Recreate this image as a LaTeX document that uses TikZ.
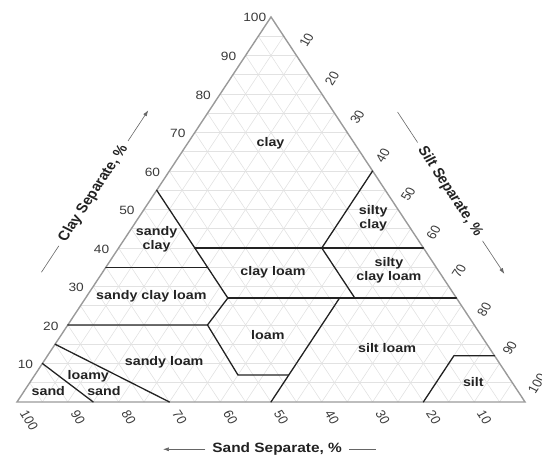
\documentclass[tikz,border=0pt]{standalone}
\usepackage{fontspec}
\setmainfont{Liberation Sans}
\usetikzlibrary{calc,arrows.meta}
\definecolor{gridc}{HTML}{E2E2E2}
\definecolor{edgec}{HTML}{9A9A9A}
\definecolor{bndc}{HTML}{222222}
\definecolor{tickc}{HTML}{3A3A3A}
\definecolor{txtc}{HTML}{222222}
\definecolor{axc}{HTML}{666666}
\begin{document}
\begin{tikzpicture}[xscale=1.1426, x=1pt, y=1pt,
  every node/.style={transform shape, inner sep=0pt},
  gridline/.style={gridc, line width=0.6pt},
  edgeline/.style={edgec, line width=1.4pt, line join=miter},
  bound/.style={bndc, line width=1.3pt, line join=round, line cap=round},
  region/.style={font=\fontsize{12.5}{14}\selectfont\bfseries, text=txtc, align=center},
  tick/.style={font=\fontsize{12}{14}\selectfont, text=tickc},
  axtitle/.style={font=\fontsize{13.5}{16}\selectfont\bfseries, text=txtc, inner xsep=6pt, inner ysep=0pt},
  axline/.style={draw=axc, line width=0.6pt},
  axarrow/.style={axline, -{Latex[length=6pt,width=4pt]}}
]
\useasboundingbox (-14.88,-55) rectangle (459.5,402);
\begin{scope}[x={(4.446pt,0pt)}, y={(2.223pt,3.8503pt)}]
  % grid every 5 %
  \foreach \i in {5,10,...,95} {
    \draw[gridline] (0,\i) -- ({100-\i},\i);
    \draw[gridline] (\i,0) -- (\i,{100-\i});
    \draw[gridline] ({100-\i},0) -- (0,{100-\i});
  }
  \coordinate (A) at (0,0);
  \coordinate (B) at (100,0);
  \coordinate (C) at (0,100);
  \draw[edgeline] (A) -- (B) -- (C) -- cycle;
  % class boundaries (silt, clay)
  \draw[bound] (15,0) -- (0,10);
  \draw[bound] (30,0) -- (0,15);
  \draw[bound] (0,20) -- (27.5,20) -- (40,7) -- (50,7);
  \draw[bound] (50,0) -- (50,27);
  \draw[bound] (0,35) -- (20,35);
  \draw[bound] (0,55) -- (28,27);
  \draw[bound] (27.5,20) -- (28,27);
  \draw[bound] (28,27) -- (73,27);
  \draw[bound] (15,40) -- (60,40);
  \draw[bound] (40,60) -- (40,40) -- (53,27);
  \draw[bound] (80,0) -- (80,12) -- (88,12);
  % tick labels
  \foreach \v in {10,20,...,90} {
    \node[tick, anchor=east] at ($(0,\v)+(-8pt,-1pt)$) {\v};
  }
  \node[tick, anchor=east] at ($(0,100)+(-4pt,0pt)$) {100};
  \foreach \v in {10,20,...,100} {
    \node[tick, anchor=west, rotate=60] at ($(\v,{100-\v})+(60:11pt)$) {\v};
    \node[tick, anchor=west, rotate=-60] at ($({100-\v},0)+(-60:11pt)$) {\v};
  }
\end{scope}
% region names
\node[region] (rclay) at (221.9,258.7) {clay};
\node[region] (rsandyclay) at (122.2,163) {sandy\\clay};
\node[region] (rsiltyclay) at (311.8,183.7) {silty\\clay};
\node[region] (rclayloam) at (224.0,129.3) {clay loam};
\node[region] (rsiltyclayloam) at (325.5,131.3) {silty\\clay loam};
\node[region] (rsandyclayloam) at (117.6,106) {sandy clay loam};
\node[region] (rloam) at (219.6,67) {loam};
\node[region] (rsiltloam) at (323.9,54.3) {silt loam};
\node[region] (rsandyloam) at (128.8,39.7) {sandy loam};
\node[region] (rloamy) at (62.4,25.3) {loamy};
\node[region] (rloamysand) at (76.1,11.3) {sand};
\node[region] (rsand) at (27.4,11.3) {sand};
\node[region] (rsilt) at (399.4,20.3) {silt};
% axis titles
\node[axtitle, rotate=60] (claytitle) at (66.9,208.6) {Clay Separate, \%};
\coordinate (claylo) at ($(claytitle.center)+(240:91pt)$);
\coordinate (clayhi) at ($(claytitle.center)+(60:96pt)$);
\draw[axline] (claylo) -- (claytitle.west);
\draw[axarrow] (claytitle.east) -- (clayhi);
\node[axtitle, rotate=-60] (silttitle) at (379,210.3) {Silt Separate, \%};
\coordinate (siltlo) at ($(silttitle.center)+(120:92pt)$);
\coordinate (silthi) at ($(silttitle.center)+(-60:95pt)$);
\draw[axline] (siltlo) -- (silttitle.west);
\draw[axarrow] (silttitle.east) -- (silthi);
\node[axtitle] (sandtitle) at (227.7,-47.3) {Sand Separate, \%};
\coordinate (sandtip) at ($(sandtitle.center)+(-100pt,0pt)$);
\coordinate (sandend) at ($(sandtitle.center)+(86.5pt,0pt)$);
\draw[axarrow] (sandtitle.west) -- (sandtip);
\draw[axline] (sandtitle.east) -- (sandend);
\end{tikzpicture}
\end{document}
